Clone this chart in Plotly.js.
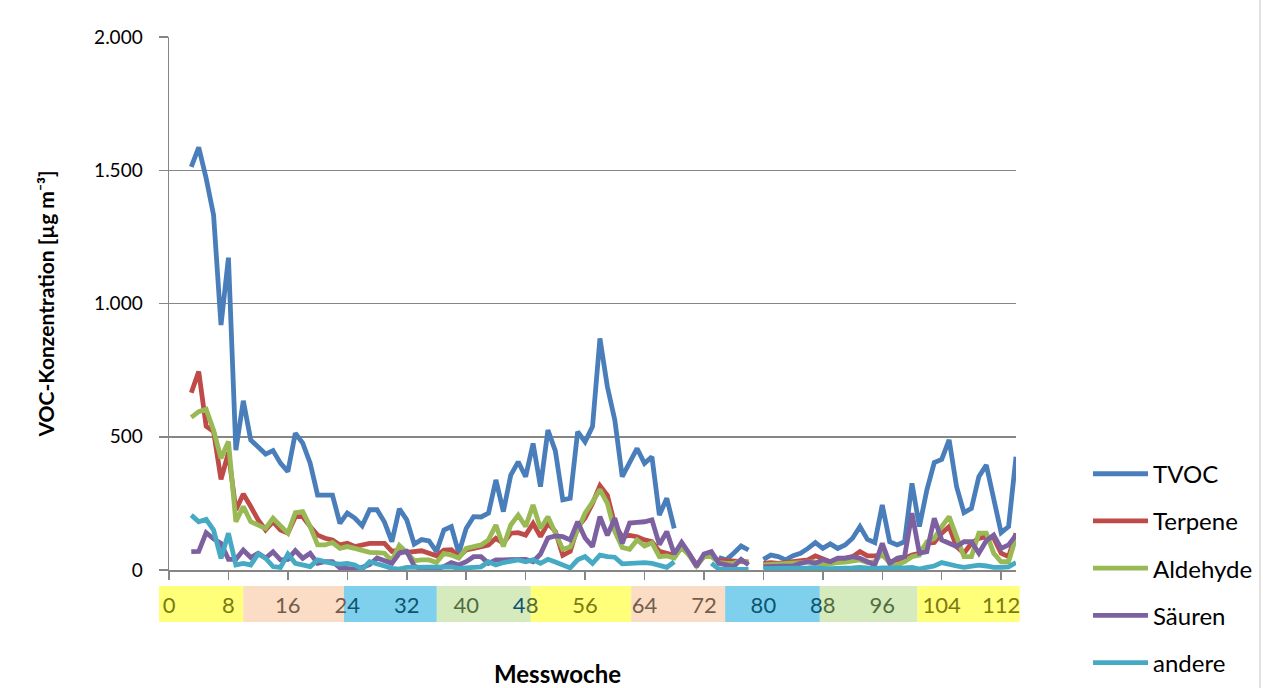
<!DOCTYPE html>
<html>
<head>
<meta charset="utf-8">
<script src="https://cdn.plot.ly/plotly-3.0.1.min.js"></script>
<style>
  html, body { margin: 0; padding: 0; background: #ffffff; }
  #chart { width: 1263px; height: 688px; }
</style>
</head>
<body>
<div id="chart"></div>
<script>
// Measurement week (x values)
const weeks = [3,4,5,6,7,8,9,10,11,12,13,14,15,16,17,18,19,20,21,22,23,24,25,26,27,28,29,30,31,32,33,34,35,36,37,38,39,40,41,42,43,44,45,46,47,48,49,50,51,52,53,54,55,56,57,58,59,60,61,62,63,64,65,66,67,68,69,70,71,72,73,74,75,76,77,78,79,80,81,82,83,84,85,86,87,88,89,90,91,92,93,94,95,96,97,98,99,100,101,102,103,104,105,106,107,108,109,110,111,112,113,114];

const seriesNames = ["TVOC", "Terpene", "Aldehyde", "Säuren", "andere"];

const tvoc = [1513,1586,1470,1332,919,1172,450,635,488,463,
  435,448,401,369,513,476,401,281,281,281,
  175,214,195,166,226,226,180,106,230,188,
  97,114,109,69,150,163,63,156,200,199,
  213,338,219,356,406,350,475,313,525,447,
  263,269,519,481,538,869,688,563,350,406,
  456,400,425,206,269,156,null,null,null,null,
  null,47,38,63,90,75,null,40,56,50,
  38,54,63,81,103,81,98,81,94,119,
  163,115,103,244,106,94,106,325,163,300,
  403,415,488,313,215,231,350,394,263,140,
  163,425];

const terpene = [665,745,540,519,340,440,225,285,238,188,
  150,181,150,138,200,200,163,131,119,113,
  94,100,88,94,100,100,100,70,75,66,
  67,72,63,53,75,76,50,75,81,88,
  94,119,100,138,140,131,175,125,175,145,
  55,70,160,195,250,316,280,170,125,130,
  125,113,106,70,63,55,85,60,20,50,
  55,35,35,33,35,30,null,25,28,25,
  28,31,38,38,53,44,31,38,44,50,
  69,53,53,56,31,38,44,56,63,100,
  103,138,163,88,63,100,119,125,119,63,
  50,138];

const aldehyde = [573,594,603,525,419,482,181,238,181,169,
  156,194,163,138,215,219,163,94,94,103,
  81,88,81,72,66,65,63,35,92,66,
  35,38,38,28,62,56,45,81,88,94,
  113,169,88,169,206,163,244,156,200,138,
  78,86,155,213,255,302,250,145,85,78,
  113,90,102,50,53,45,85,55,15,50,
  50,28,25,25,35,25,null,19,20,22,
  22,25,28,30,30,19,25,28,30,35,
  38,28,31,63,25,19,31,50,56,106,
  119,163,200,125,50,50,138,138,63,31,
  31,125];

const saeuren = [69,70,140,117,100,40,40,75,47,63,
  45,68,38,40,73,44,63,25,31,31,
  8,5,3,10,20,45,35,25,63,70,
  15,3,2,3,13,28,19,31,50,50,
  25,38,38,38,40,40,31,60,120,128,
  125,113,181,120,88,200,130,194,100,176,
  179,181,188,95,144,60,104,63,13,60,
  69,25,19,13,40,19,null,13,14,15,
  16,15,25,31,25,38,31,44,44,50,
  44,31,19,100,25,44,50,213,63,69,
  194,113,100,88,106,106,63,110,131,81,
  94,131];

const andere = [206,181,190,150,44,138,19,25,19,60,
  44,13,10,60,25,19,13,38,31,25,
  22,25,19,3,31,25,15,6,3,10,
  10,8,10,10,10,12,6,8,10,12,
  31,19,28,31,38,31,38,25,40,30,
  19,8,38,50,25,56,50,48,23,25,
  25,28,25,19,10,31,null,null,null,null,
  25,4,2,3,3,2,null,5,5,6,
  5,5,6,8,10,5,5,5,6,8,
  10,8,5,8,8,5,8,10,3,10,
  15,28,20,15,10,12,18,15,10,10,
  12,28];

// x-axis tick labels (every 8 weeks)
const tickWeeks = [0,8,16,24,32,40,48,56,64,72,80,88,96,104,112];

// colored season bands below the axis (week boundaries)
const bandEdges = [-1.35, 10.0, 23.55, 36.05, 48.7, 62.2, 74.85, 87.6, 100.75, 114.5];
const bandFills = ["#ffff7a", "#fbdcc5", "#7fd0ec", "#d5ebbd", "#ffff7a", "#fbdcc5", "#7fd0ec", "#d5ebbd", "#ffff7a"];
const bandText  = ["#7a7a10", "#735d4c", "#0d5470", "#516c3d", "#7a7a10", "#735d4c", "#0d5470", "#516c3d", "#7a7a10"];

const lineColors = ["#4a7ebb", "#be4b48", "#98b954", "#7d60a0", "#46aac5"];
const values = [tvoc, terpene, aldehyde, saeuren, andere];

const X0 = 0, X1 = 114;

function bandIndex(w) {
  for (let i = 0; i < bandFills.length; i++) {
    if (w >= bandEdges[i] && w < bandEdges[i + 1]) return i;
  }
  return bandFills.length - 1;
}

// tick label text coloured by the band underneath (split labels at band edges)
const tickText = tickWeeks.map(w => {
  const s = String(w);
  const i = bandIndex(w);
  if (w === 24 || w === 48 || w === 88) {
    return '<span style="color:' + bandText[i - 1] + '">' + s.slice(0, 1) + '</span>' +
           '<span style="color:' + bandText[i] + '">' + s.slice(1) + '</span>';
  }
  return '<span style="color:' + bandText[i] + '">' + s + '</span>';
});

const traces = seriesNames.map((name, k) => ({
  type: 'scatter',
  mode: 'lines',
  name: name,
  x: weeks,
  y: values[k],
  legendgroup: 'g' + k,
  connectgaps: false,
  line: { color: lineColors[k], width: 4.8, shape: 'linear' },
  hoverinfo: 'skip'
}));

const shapes = bandFills.map((c, i) => ({
  type: 'rect',
  xref: 'x domain', yref: 'paper',
  x0: (bandEdges[i] - X0) / (X1 - X0),
  x1: (bandEdges[i + 1] - X0) / (X1 - X0),
  y0: -0.0976, y1: -0.030,
  fillcolor: c, line: { width: 0 }, layer: 'below'
}));
// outer chart frame (right edge)
shapes.push({
  type: 'line', xref: 'paper', yref: 'paper',
  x0: (1260 - 169) / 847, x1: (1260 - 169) / 847, y0: -0.25, y1: 1.1,
  line: { color: '#d9d9d9', width: 1.5 }
});

const layout = {
  width: 1263, height: 688,
  margin: { l: 169, r: 247, t: 37, b: 118, autoexpand: false },
  paper_bgcolor: '#ffffff', plot_bgcolor: '#ffffff',
  separators: ',.',
  font: { family: 'Lato, "Open Sans", sans-serif', color: '#000000', size: 19 },
  showlegend: true,
  legend: {
    x: 1.085, xanchor: 'left', y: 0.222, yanchor: 'top',
    font: { size: 24, color: '#000000' },
    itemwidth: 55, tracegroupgap: 13, traceorder: 'grouped',
    bgcolor: 'rgba(0,0,0,0)'
  },
  xaxis: {
    range: [X0, X1],
    tickmode: 'array', tickvals: tickWeeks, ticktext: tickText,
    ticks: 'outside', ticklen: 8, tickwidth: 1.5, tickcolor: '#868686',
    showline: true, linecolor: '#868686', linewidth: 1.5,
    showgrid: false, zeroline: false,
    ticklabelstandoff: 7,
    tickfont: { size: 22, family: 'Lato, "Open Sans", sans-serif' }
  },
  yaxis: {
    range: [0, 2000],
    tickvals: [0, 500, 1000, 1500, 2000],
    separatethousands: true, tickformat: ',d',
    ticks: 'outside', ticklen: 9, tickwidth: 1.5, tickcolor: '#868686',
    showline: true, linecolor: '#868686', linewidth: 1.5,
    showgrid: true, gridcolor: '#868686', gridwidth: 1.5,
    zeroline: false,
    ticklabelstandoff: 12,
    tickfont: { size: 19, color: '#000000' },
    title: {
      text: 'VOC-Konzentration [µg m⁻³]',
      font: { size: 21, family: 'Lato, "Open Sans", sans-serif', weight: 'bold', color: '#000000' },
      standoff: 34
    }
  },
  shapes: shapes,
  annotations: [{
    text: 'Messwoche', showarrow: false,
    xref: 'paper', yref: 'paper',
    x: (557 - 169) / 847, y: (570 - 673) / 533,
    xanchor: 'center', yanchor: 'middle',
    font: { size: 24, weight: 'bold', color: '#000000' }
  }]
};

Plotly.newPlot('chart', traces, layout, { staticPlot: true, displayModeBar: false });
</script>
</body>
</html>
